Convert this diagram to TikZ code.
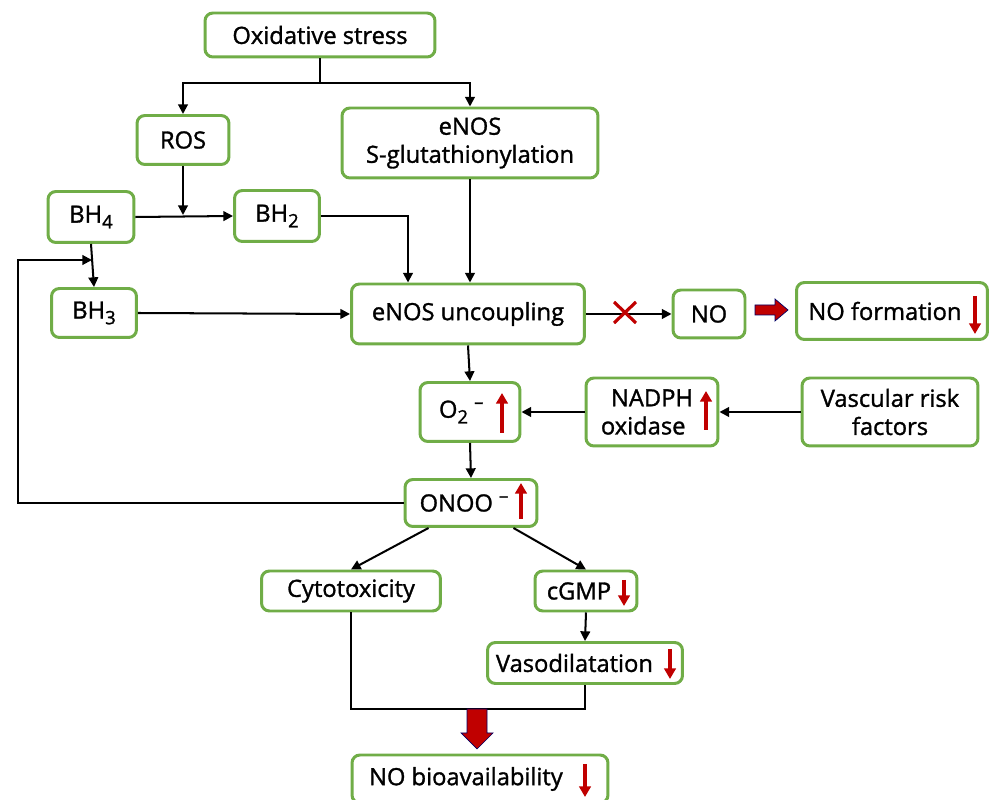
\documentclass[tikz,border=0pt]{standalone}
\usepackage{fontspec}
\setmainfont{Open Sans}[BoldFont={Open Sans},BoldFeatures={FakeBold=1.3}]
\usetikzlibrary{arrows.meta}
\definecolor{bgreen}{RGB}{112,173,71}
\definecolor{dred}{RGB}{192,0,0}
\newcommand\mysb[1]{\raisebox{-0.45ex}{\fontsize{10.5}{12}\selectfont #1}}
\newcommand\mysp[1]{\raisebox{0.75ex}{\fontsize{10.5}{12}\selectfont #1}}
\begin{document}
\begin{tikzpicture}[x=0.02cm,y=-0.02cm,
  box/.style={draw=bgreen,line width=1.7pt,rounded corners=4.5pt,fill=white,inner sep=0pt,
    font=\fontsize{13.5}{16}\selectfont\bfseries,align=center},
  ar/.style={-{Triangle[length=5.5pt,width=5.5pt]},line width=1.15pt},
  ln/.style={line width=1.15pt},
  redup/.style={dred,line width=1.9pt,-{Triangle[length=6pt,width=6.5pt]}},
  fat/.style={fill=dred,draw=blue!40!black,line width=0.4pt}]
\useasboundingbox (0,0) rectangle (992,800);
\fill[white] (0,0) rectangle (992,800);
% nodes
\node[box,minimum width=4.6cm,minimum height=0.88cm] (ox) at (320,35) {Oxidative stress};
\node[box,minimum width=1.84cm,minimum height=0.98cm] (ros) at (183,140) {ROS};
\node[box,minimum width=5.12cm,minimum height=1.4cm] (esg) at (470,143) {eNOS\\S-glutathionylation};
\node[box,minimum width=1.72cm,minimum height=1.02cm] (bh4) at (91,217) {BH\mysb{4}};
\node[box,minimum width=1.7cm,minimum height=1.02cm] (bh2) at (277,216) {BH\mysb{2}};
\node[box,minimum width=1.7cm,minimum height=0.98cm] (bh3) at (94,313) {BH\mysb{3}};
\node[box,minimum width=4.66cm,minimum height=1.2cm] (enu) at (468,314) {eNOS uncoupling};
\node[box,minimum width=1.44cm,minimum height=0.96cm] (no) at (709,314) {NO};
\node[box,minimum width=3.82cm,minimum height=1.14cm] (nof) at (892,311) {NO formation\hspace{8pt}};
\node[box,minimum width=2.0cm,minimum height=1.18cm] (o2) at (470,412) {O\mysb{2} \mysp{--}\hspace{10pt}};
\node[box,minimum width=2.64cm,minimum height=1.36cm] (nadph) at (652,412) {NADPH\\oxidase\hspace{0pt}\kern10pt};
\node[box,minimum width=3.52cm,minimum height=1.36cm] (vasc) at (890,412) {Vascular risk\\factors};
\node[box,minimum width=2.64cm,minimum height=0.94cm] (onoo) at (471,503) {ONOO \mysp{--}\hspace{8pt}};
\node[box,minimum width=3.58cm,minimum height=0.8cm] (cyto) at (351,591) {Cytotoxicity};
\node[box,minimum width=2.04cm,minimum height=0.8cm] (cgmp) at (586,591) {cGMP\hspace{8pt}};
\node[box,minimum width=3.9cm,minimum height=0.82cm] (vaso) at (585,663) {Vasodilatation\hspace{12pt}};
\node[box,minimum width=5.12cm,minimum height=0.96cm] (nob) at (480,779) {NO bioavailability\hspace{16pt}};
% connectors
\coordinate (split) at (320,83);
\draw[ln] (ox.south) -- (split);
\draw[ar] (split) -| (ros.north);
\draw[ar] (split) -| (esg.north);
\coordinate (rosend) at (183,215);
\draw[ar] (ros.south) -- (rosend);
\draw[ar] (bh4.east) -- (bh2.west);
\draw[ar] (bh2.east) -| ([xshift=-1.2cm]enu.north);
\draw[ar] (esg.south) -- (esg.south |- enu.north);
\draw[ar] (bh4.south) -- (bh3.north);
\coordinate (fbc) at (18,260);
\coordinate (fbend) at (92,260);
\draw[ar] (onoo.west) -| (fbc) -- (fbend);
\draw[ar] (bh3.east) -- (enu.west);
\draw[ar] (enu.east) -- (no.west);
\draw[ar] (enu.south) -- (o2.north);
\draw[ar] (nadph.west) -- (o2.east);
\draw[ar] (vasc.west) -- (nadph.east);
\draw[ar] (o2.south) -- (onoo.north);
\draw[ar] ([xshift=0.5cm]onoo.south west) -- (cyto.north);
\draw[ar] ([xshift=-0.5cm]onoo.south east) -- (cgmp.north);
\draw[ar] (cgmp.south) -- (vaso.north);
\draw[ln] (cyto.south) -- ++(0,97) -| (vaso.south);
% red X
\draw[dred,line width=1.8pt] (614,302) -- (636,323) (636,302) -- (614,323);
% fat arrows
\draw[fat] (755,305) -- (775,305) -- (775,299) -- (788,310) -- (775,321) -- (775,315) -- (755,315) -- cycle;
\draw[fat] (467,709) -- (487,709) -- (487,733) -- (493,733) -- (477,749) -- (461,733) -- (467,733) -- cycle;
% red up / down arrows
\draw[redup] (502,433) -- (502,393);
\draw[redup] (706,430) -- (706,391);
\draw[redup] (521,519) -- (521,483);
\draw[redup] (975,296) -- (975,334);
\draw[redup] (624,580) -- (624,606);
\draw[redup] (670,649) -- (670,679);
\draw[redup] (585,764) -- (585,797);
\end{tikzpicture}
\end{document}
